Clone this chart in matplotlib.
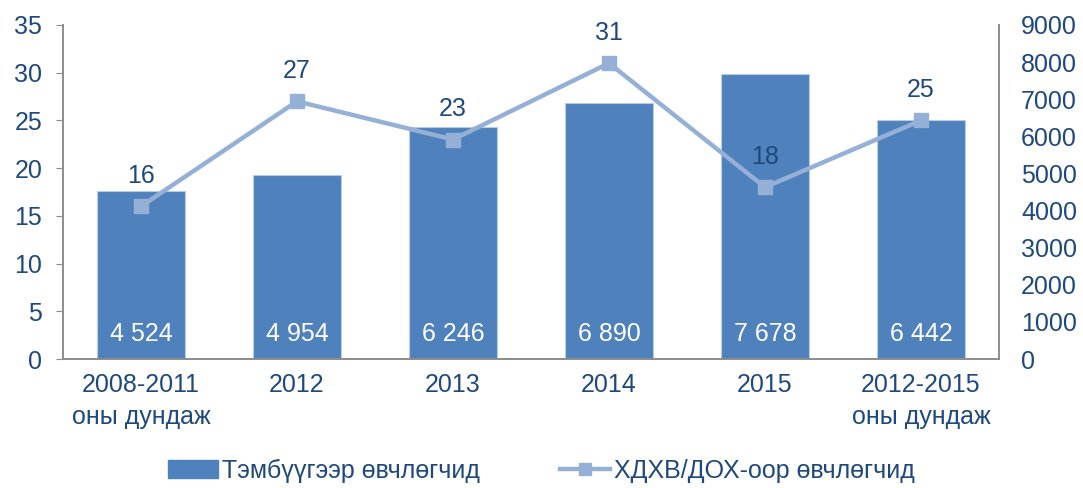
import numpy as np
import matplotlib.pyplot as plt

plt.rcParams['font.family'] = ['Liberation Sans', 'DejaVu Sans']

categories = ['2008-2011\nоны дундаж', '2012', '2013', '2014', '2015', '2012-2015\nоны дундаж']
bar_values = [4524, 4954, 6246, 6890, 7678, 6442]
line_values = [16, 27, 23, 31, 18, 25]
bar_name = 'Тэмбүүгээр өвчлөгчид'
line_name = 'ХДХВ/ДОХ-оор өвчлөгчид'

txt = '#1f497d'
bar_col = '#4f81bd'
line_col = '#95b0d6'
spine_col = '#8c8c8c'
fs = 18

fig = plt.figure(figsize=(10.83, 4.88), dpi=100)
ax1 = fig.add_axes([0.0582, 0.2643, 0.8642, 0.6845])
ax2 = ax1.twinx()
x = np.arange(len(categories))

# bars on the right axis, line on the left axis (line drawn on top)
ax2.bar(x, bar_values, width=0.57, color=bar_col, edgecolor='#b8cce4', linewidth=0.8, zorder=1)
for xi, v in zip(x, bar_values):
    ax2.text(xi, 680, '{:,}'.format(v).replace(',', ' '), ha='center', va='center',
             color='white', fontsize=fs)
ax2.set_ylim(0, 9000)
ax2.set_yticks(range(0, 9001, 1000))

ax1.set_zorder(ax2.get_zorder() + 1)
ax1.patch.set_visible(False)
ax1.plot(x, line_values, color=line_col, linewidth=3.2, marker='s', markersize=10,
         markerfacecolor=line_col, markeredgecolor=line_col, zorder=3)
for xi, v in zip(x, line_values):
    ax1.annotate(str(v), (xi, v), xytext=(0, 22), textcoords='offset points',
                 ha='center', va='center', color=txt, fontsize=fs)
ax1.set_ylim(0, 35)
ax1.set_yticks(range(0, 36, 5))
ax1.set_xlim(-0.5, len(categories) - 0.5)
ax1.set_xticks(x)
ax1.set_xticklabels(categories, linespacing=1.4)

for a in (ax1, ax2):
    a.spines['top'].set_visible(False)
    for s in ('left', 'right', 'bottom'):
        a.spines[s].set_color(spine_col)
        a.spines[s].set_linewidth(1.2)
ax1.tick_params(axis='y', colors=spine_col, labelcolor=txt, labelsize=fs, length=5, pad=10)
ax1.tick_params(axis='x', length=0, labelcolor=txt, labelsize=fs, pad=10)
ax2.tick_params(axis='y', length=0, labelcolor=txt, labelsize=fs, pad=16)

# legend
h1 = plt.Rectangle((0, 0), 1, 1, color=bar_col)
h2, = ax1.plot([], [], color=line_col, linewidth=3.2, marker='s', markersize=9)
fig.legend([h1, h2], [bar_name, line_name], loc='lower center', ncol=2, frameon=False,
           bbox_to_anchor=(0.5, -0.035), fontsize=fs, labelcolor=txt, columnspacing=3.2,
           handlelength=2.0, handletextpad=0.15)

fig.savefig('out.png', dpi=100)
